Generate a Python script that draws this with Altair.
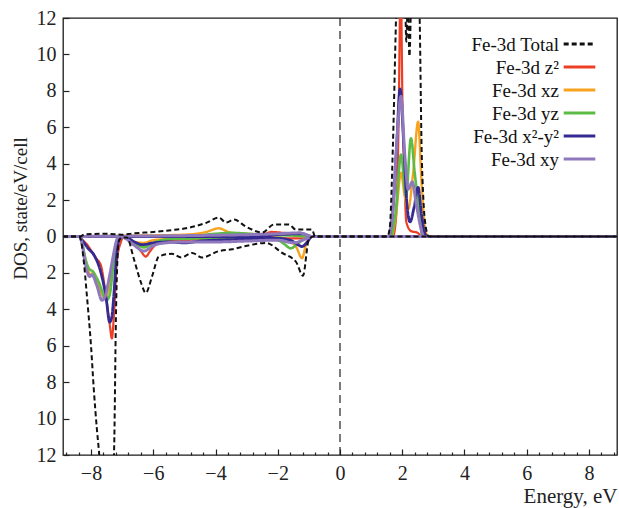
import altair as alt
import pandas as pd

FONT = "Liberation Serif"
W, H = 554, 437

orbitals = ["Fe-3d Total", "Fe-3d z²", "Fe-3d xz", "Fe-3d yz", "Fe-3d x²-y²", "Fe-3d xy"]
colors = ["#111111", "#EC3F25", "#F9A21E", "#5CBB45", "#352A92", "#8F79BC"]
dashes = [[5, 3], [1, 0], [1, 0], [1, 0], [1, 0], [1, 0]]
widths = [2.0, 3.0, 3.0, 3.0, 3.0, 3.0]

x_major = [-8, -6, -4, -2, 0, 2, 4, 6, 8]
x_minor = [-8.8, -8.4, -7.6, -7.2, -6.8, -6.4, -5.6, -5.2, -4.8, -4.4, -3.6, -3.2,
           -2.8, -2.4, -1.6, -1.2, -0.8, -0.4, 0.4, 0.8, 1.2, 1.6, 2.4, 2.8, 3.2, 3.6,
           4.4, 4.8, 5.2, 5.6, 6.4, 6.8, 7.2, 7.6, 8.4, 8.8]
y_major = [-12, -10, -8, -6, -4, -2, 0, 2, 4, 6, 8, 10, 12]
fermi = [0]

# ---- Total ----
total_up_E = [-8.9, -8.35, -8.2, -7.5, -7.0, -6.69, -6.0, -5.4, -4.95, -4.3,
              -3.89, -3.67, -3.4, -3.03, -2.5, -2.12, -1.64, -1.42, -0.9, -0.8,
              1.52, 1.6, 1.7, 1.8, 1.9, 2.0, 2.08, 2.13, 2.18, 2.23,
              2.3, 2.4, 2.5, 2.56, 2.62, 2.68, 2.75, 2.85, 8.9]
total_up_V = [0, 0, 0.12, 0.15, 0.1, 0.16, 0.25, 0.35, 0.45, 0.75,
              1.04, 0.77, 0.93, 0.55, 0.22, 0.66, 0.66, 0.38, 0.38, 0,
              0, 0.5, 5, 12, 18, 20, 15, 10.7, 13, 9.9,
              14, 16, 15, 12, 5, 2, 0.6, 0, 0]
total_dn_E = [-8.9, -8.38, -8.33, -8.23, -8.13, -8.0, -7.91, -7.81, -7.75, -7.5,
              -7.3, -7.25, -7.2, -7.15, -7.1, -7.0, -6.85, -6.62, -6.4, -6.24,
              -6.04, -5.82, -5.4, -5.1, -4.75, -4.43, -3.89, -3.47, -2.83, -2.38,
              -1.86, -1.41, -1.19, -1.0, -0.85, 8.9]
total_dn_V = [0, 0, -0.15, -1.4, -3.3, -6, -8.4, -10.6, -11.7, -17,
              -14, -11, -4.5, -1.2, -0.2, -0.05, -0.05, -1.25, -2.5, -3.1,
              -2.2, -1.1, -0.95, -1.15, -0.9, -1.15, -0.8, -0.7, -0.45, -0.35,
              -0.9, -1.4, -2.15, -0.15, 0, 0]

# ---- z2 ----
z2_up_E = [-8.9, -2.8, -2.4, -2.2, -1.8, -1.3, -0.9, 1.7, 1.8, 1.88, 1.95, 2.01, 2.07, 2.13, 2.28, 2.5, 2.62, 8.9]
z2_up_V = [0, 0, 0.15, 0.25, 0.2, 0.15, 0, 0, 1, 6, 14, 7, 3.3, 0.8, 0.3, 0.2, 0, 0]
z2_dn_E = [-8.9, -8.38, -8.33, -8.1, -7.95, -7.85, -7.68, -7.52, -7.4, -7.33,
           -7.27, -7.17, -7.04, -6.95, -6.85, -6.56, -6.4, -6.24, -6.1, -5.92,
           -5.6, -5.0, -4.0, -3.0, -2.0, -1.2, -0.85, 8.9]
z2_dn_V = [0, 0, -0.1, -0.5, -0.9, -1.17, -1.6, -3.3, -4.8, -5.6,
           -4.5, -1.4, -0.3, 0, -0.05, -0.45, -0.8, -1.1, -0.8, -0.45,
           -0.25, -0.2, -0.1, -0.1, -0.1, -0.1, 0, 0]

# ---- xz ----
xz_up_E = [-8.9, -6.5, -5.0, -4.3, -3.9, -3.5, -3.0, -2.0, -1.0, -0.85, 1.65, 1.8, 1.96, 2.08, 2.19, 2.35, 2.51, 2.62, 2.72, 2.82, 8.9]
xz_up_V = [0, 0.05, 0.1, 0.25, 0.45, 0.2, 0.15, 0.1, 0.05, 0, 0, 1.2, 3.5, 2.2, 1.5, 3.5, 6.3, 3, 0.6, 0, 0]
xz_dn_E = [-8.9, -8.38, -8.3, -8.15, -8.02, -7.95, -7.8, -7.55, -7.45, -7.3,
           -7.18, -7.08, -6.9, -6.6, -6.3, -6.0, -5.0, -4.0, -2.0, -1.6,
           -1.4, -1.22, -1.1, -0.95, 8.9]
xz_dn_V = [0, 0, -0.3, -1.5, -2.1, -2.0, -2.5, -3.4, -3.0, -1.5,
           -0.3, 0, -0.05, -0.3, -0.35, -0.2, -0.1, 0, -0.05, -0.25,
           -0.6, -1.2, -0.5, 0, 0]

# ---- yz ----
yz_up_E = [-8.9, -5.0, -4.0, -3.5, -2.5, -1.5, -0.9, 1.62, 1.8, 1.96, 2.12, 2.28, 2.4, 2.54, 2.65, 8.9]
yz_up_V = [0, 0, 0.15, 0.2, 0.1, 0.05, 0, 0, 1.5, 4.5, 2.2, 5.4, 3.5, 1.5, 0, 0]
yz_dn_E = [-8.9, -8.38, -8.3, -8.15, -8.05, -7.95, -7.75, -7.5, -7.4, -7.28,
           -7.18, -7.08, -6.9, -6.6, -6.3, -6.0, -5.5, -4.0, -2.5, -2.0,
           -1.8, -1.58, -1.4, -1.2, -0.95, 8.9]
yz_dn_V = [0, 0, -0.3, -1.4, -1.8, -1.9, -2.5, -3.5, -3.2, -1.5,
           -0.3, 0, -0.05, -0.35, -0.6, -0.35, -0.15, -0.1, -0.1, -0.2,
           -0.4, -0.65, -0.45, -0.2, 0, 0]

# ---- x2-y2 ----
x2y2_up_E = [-8.9, -2.5, -2.0, -1.2, -0.9, 1.55, 1.7, 1.82, 1.93, 2.05, 2.15, 2.25, 2.38, 2.51, 2.62, 2.72, 2.8, 8.9]
x2y2_up_V = [0, 0, 0.1, 0.15, 0, 0, 1.5, 5, 8.1, 5, 1.8, 0.8, 1.6, 2.7, 1.2, 0.2, 0, 0]
x2y2_dn_E = [-8.9, -8.38, -8.33, -8.07, -7.91, -7.68, -7.52, -7.4, -7.33, -7.27,
             -7.2, -7.12, -7.0, -6.85, -6.6, -6.35, -6.0, -5.5, -5.0, -4.5,
             -4.0, -3.0, -2.0, -1.6, -1.35, -1.22, -1.05, -0.9, 8.9]
x2y2_dn_V = [0, 0, -0.1, -0.7, -1.0, -2.0, -3.3, -4.7, -4.4, -3.3,
             -1.5, -0.3, 0, -0.05, -0.3, -0.45, -0.35, -0.3, -0.35, -0.25,
             -0.2, -0.15, -0.1, -0.2, -0.45, -0.55, -0.3, 0, 0]

# ---- xy ----
xy_up_E = [-8.9, -3.0, -2.0, -1.3, -0.9, 1.55, 1.7, 1.82, 1.96, 2.08, 2.19, 2.32, 2.45, 2.58, 2.7, 8.9]
xy_up_V = [0, 0.1, 0.15, 0.2, 0, 0, 1.5, 5, 7.7, 4.5, 2.6, 3.0, 1.8, 0.6, 0, 0]
xy_dn_E = [-8.9, -8.38, -8.3, -8.17, -8.04, -7.97, -7.81, -7.65, -7.55, -7.43,
           -7.3, -7.2, -7.1, -6.9, -6.6, -6.3, -6.0, -5.6, -5.0, -4.0,
           -3.0, -2.0, -1.48, -1.2, -0.9, 8.9]
xy_dn_V = [0, 0, -0.3, -1.6, -2.2, -2.1, -2.7, -3.5, -3.3, -2.4,
           -1.2, -0.35, 0, -0.1, -0.5, -0.8, -0.5, -0.35, -0.3, -0.3,
           -0.25, -0.2, -0.35, -0.2, 0, 0]

# drawing order: components first, total (dashed) on top
series = [
    (orbitals[1], "up", z2_up_E, z2_up_V), (orbitals[1], "dn", z2_dn_E, z2_dn_V),
    (orbitals[2], "up", xz_up_E, xz_up_V), (orbitals[2], "dn", xz_dn_E, xz_dn_V),
    (orbitals[3], "up", yz_up_E, yz_up_V), (orbitals[3], "dn", yz_dn_E, yz_dn_V),
    (orbitals[4], "up", x2y2_up_E, x2y2_up_V), (orbitals[4], "dn", x2y2_dn_E, x2y2_dn_V),
    (orbitals[5], "up", xy_up_E, xy_up_V), (orbitals[5], "dn", xy_dn_E, xy_dn_V),
    (orbitals[0], "up", total_up_E, total_up_V), (orbitals[0], "dn", total_dn_E, total_dn_V),
]
rows = []
for orb, spin, E, V in series:
    for i, (e, v) in enumerate(zip(E, V)):
        rows.append({"orbital": orb, "spin": spin, "E": e, "DOS": v, "i": i})
df = pd.DataFrame(rows)

xscale = alt.Scale(domain=[-8.9, 8.9], nice=False, zero=False)
yscale = alt.Scale(domain=[-12, 12], nice=False, zero=False)

# symbols-only legend (colour + dash), placed at the right
sym_legend = alt.Legend(
    title=None, orient="top-right", offset=16,
    symbolType="stroke", symbolSize=1000, symbolStrokeWidth=3,
    labelExpr="''", labelFontSize=19, clipHeight=20, rowPadding=3, padding=0,
)
# labels-only legend, right-aligned, to the left of the symbols
lab_legend = alt.Legend(
    title=None, orient="none", legendX=461, legendY=17,
    symbolType="stroke", symbolSize=1000, symbolOpacity=0, symbolStrokeColor="transparent",
    labelAlign="right", labelOffset=0, labelFont=FONT, labelFontSize=19,
    labelColor="#111", labelLimit=400, clipHeight=20, rowPadding=3, padding=0,
)

lines = alt.Chart(df).mark_line(clip=True, interpolate="monotone").encode(
    x=alt.X("E:Q", scale=xscale, axis=alt.Axis(
        orient="bottom", values=x_major, ticks=False, tickSize=0, domain=False, grid=False,
        labelPadding=8, labelFont=FONT, labelFontSize=20, labelColor="#222",
        title="Energy, eV", titleFont=FONT, titleFontSize=21, titleFontWeight="normal",
        titleColor="#222", titleAlign="right", titleAnchor="end", titleX=W, titleY=47,
        titleBaseline="alphabetic")),
    y=alt.Y("DOS:Q", scale=yscale, axis=alt.Axis(
        orient="left", values=y_major, ticks=False, tickSize=0, domain=False, grid=False,
        labelExpr="format(abs(datum.value), 'd')", labelPadding=7,
        labelFont=FONT, labelFontSize=20, labelColor="#222",
        title="DOS, state/eV/cell", titleFont=FONT, titleFontSize=19, titleFontWeight="normal",
        titleColor="#222", titleAngle=270, titleX=-43, titleY=190,
        titleAlign="center", titleBaseline="middle")),
    color=alt.Color("orbital:N", scale=alt.Scale(domain=orbitals, range=colors), legend=sym_legend),
    strokeDash=alt.StrokeDash("orbital:N", scale=alt.Scale(domain=orbitals, range=dashes), legend=sym_legend),
    strokeWidth=alt.StrokeWidth("orbital:N", scale=alt.Scale(domain=orbitals, range=widths), legend=lab_legend),
    detail="spin:N",
    order="i:Q",
)

vline = alt.Chart(pd.DataFrame({"v": fermi})).mark_rule(
    color="#222", strokeWidth=1.2, strokeDash=[8, 5]
).encode(x=alt.X("v:Q", scale=xscale, axis=None))

tick_common = dict(labels=False, domain=False, grid=False, ticks=True, tickColor="#222",
                   tickWidth=1.2, title=None)

xmaj = alt.Chart(pd.DataFrame({"v": x_major})).mark_point(opacity=0).encode(
    x=alt.X("v:Q", scale=xscale, axis=alt.Axis(orient="top", offset=-H, values=x_major,
                                               tickSize=6, **tick_common)))
xmin = alt.Chart(pd.DataFrame({"v": x_minor})).mark_point(opacity=0).encode(
    x=alt.X("v:Q", scale=xscale, axis=alt.Axis(orient="top", offset=-H, values=x_minor,
                                               tickSize=3, **tick_common)))
ymaj = alt.Chart(pd.DataFrame({"v": y_major})).mark_point(opacity=0).encode(
    y=alt.Y("v:Q", scale=yscale, axis=alt.Axis(orient="right", offset=-W, values=y_major,
                                               tickSize=6, **tick_common)))

chart = alt.layer(lines, vline, xmaj, xmin, ymaj).resolve_axis(
    x="independent", y="independent"
).properties(
    width=W, height=H,
    padding={"left": 63, "top": 18, "right": 2, "bottom": 53},
    autosize=alt.AutoSizeParams(type="none"),
    background="white",
).configure_view(stroke="#1a1a1a", strokeWidth=1.3)

chart.save("out.html", embed_options={"renderer": "svg", "actions": False})
